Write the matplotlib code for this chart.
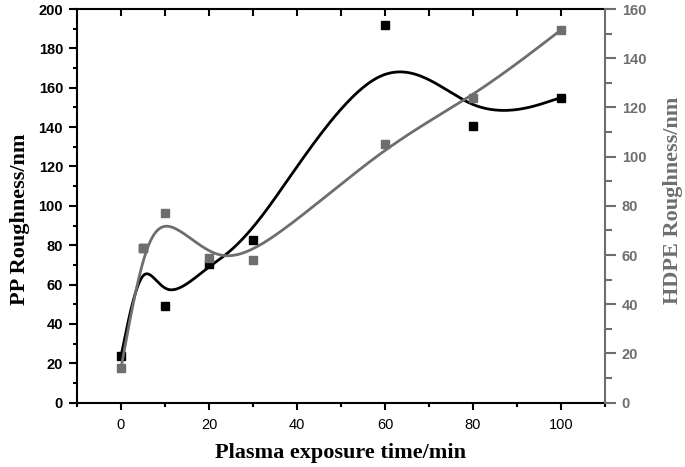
#!/usr/bin/env python3
"""PP / HDPE roughness vs plasma exposure time, dual y-axis with B-spline connectors."""

import matplotlib

matplotlib.use("Agg")
import matplotlib.pyplot as plt
import numpy as np
from matplotlib.ticker import MultipleLocator

# Data. PP point at 5 min sits under the HDPE marker.
time_min = [0, 5, 10, 20, 30, 60, 80, 100]
pp_roughness = [23.5, 78.5, 49, 70.5, 82.5, 192, 140.5, 155]
hdpe_roughness = [14, 63, 77, 59, 58, 105, 124, 151.5]

GRAY = "#6e6e6e"
SANS = "Liberation Sans"
SERIF = "Liberation Serif"

# uniform cubic B-spline basis matrix
M = np.array([[-1, 3, -3, 1], [3, -6, 3, 0], [-3, 0, 3, 0], [1, 4, 1, 0]]) / 6.0


def bspline(xs, ys, per_seg=60):
    """Uniform cubic B-spline with the data as control points; end points tripled
    so the curve starts and ends on the first/last point (Origin style)."""
    P = np.column_stack([xs, ys]).astype(float)
    P = np.vstack([P[:1], P[:1], P, P[-1:], P[-1:]])
    t = np.linspace(0, 1, per_seg)
    T = np.column_stack([t**3, t**2, t, np.ones_like(t)])
    segs = [T @ M @ P[i:i + 4] for i in range(len(P) - 3)]
    out = np.vstack(segs)
    return out[:, 0], out[:, 1]


fig = plt.figure(figsize=(6.85, 4.67), dpi=100)
ax = fig.add_axes([0.1124, 0.1377, 0.7708, 0.843])
ax2 = ax.twinx()

# PP on the left axis (black)
sx, sy = bspline(time_min, pp_roughness)
ax.plot(sx, sy, color="black", lw=2.0, zorder=2)
ax.plot(time_min, pp_roughness, ls="none", marker="s", ms=5.5, color="black", zorder=3)

# HDPE on the right axis (gray)
sx, sy = bspline(time_min, hdpe_roughness)
ax2.plot(sx, sy, color=GRAY, lw=2.0, zorder=2)
ax2.plot(time_min, hdpe_roughness, ls="none", marker="s", ms=5.5, color=GRAY, zorder=3)

ax.set_xlim(-10, 110)
ax.set_ylim(0, 200)
ax2.set_ylim(0, 160)

ax.xaxis.set_major_locator(MultipleLocator(20))
ax.xaxis.set_minor_locator(MultipleLocator(10))
ax.yaxis.set_major_locator(MultipleLocator(20))
ax.yaxis.set_minor_locator(MultipleLocator(10))
ax2.yaxis.set_major_locator(MultipleLocator(20))
ax2.yaxis.set_minor_locator(MultipleLocator(10))

ax.set_xticks([0, 20, 40, 60, 80, 100])
ax.tick_params(axis="x", which="major", direction="out", length=5, width=1.5, pad=6)
ax.tick_params(axis="x", which="minor", direction="out", length=3, width=1.5)
ax.tick_params(axis="y", which="major", direction="out", length=6, width=1.5, pad=4)
ax.tick_params(axis="y", which="minor", direction="out", length=3, width=1.5)
ax2.tick_params(axis="y", which="major", direction="out", length=8, width=1.5, colors=GRAY, pad=4)
ax2.tick_params(axis="y", which="minor", direction="out", length=5, width=1.5, colors=GRAY)

# top ticks point inward every 10 min, no labels
top = ax.secondary_xaxis("top")
top.set_xticks(range(0, 101, 10))
top.tick_params(direction="in", length=5, width=1.5, labeltop=False)
top.spines["top"].set_visible(False)

for s in ax.spines.values():
    s.set_linewidth(1.5)
for name, s in ax2.spines.items():
    s.set_linewidth(1.5)
ax2.spines["right"].set_color(GRAY)
ax2.spines["left"].set_visible(False)
ax2.spines["top"].set_visible(False)
ax2.spines["bottom"].set_visible(False)
ax.spines["right"].set_visible(False)

for lab in ax.get_xticklabels():
    lab.set_fontfamily(SANS)
    lab.set_fontsize(10.5)
for lab in ax.get_yticklabels():
    lab.set_fontfamily(SANS)
    lab.set_fontsize(10.5)
    lab.set_fontweight("bold")
for lab in ax2.get_yticklabels():
    lab.set_fontfamily(SANS)
    lab.set_fontsize(10.5)
    lab.set_fontweight("bold")
    lab.set_color(GRAY)

ax.set_xlabel("Plasma exposure time/min", fontfamily=SERIF, fontweight="bold", fontsize=16, labelpad=8)
ax.set_ylabel("PP Roughness/nm", fontfamily=SERIF, fontweight="bold", fontsize=16, labelpad=6)
ax2.set_ylabel("HDPE Roughness/nm", fontfamily=SERIF, fontweight="bold", fontsize=16,
               color=GRAY, labelpad=12)
# the axis titles sit a little off-centre in the original
ax.yaxis.label.set_y(0.467)
ax2.yaxis.label.set_y(0.515)

fig.savefig("out.png", dpi=100, facecolor="white")
